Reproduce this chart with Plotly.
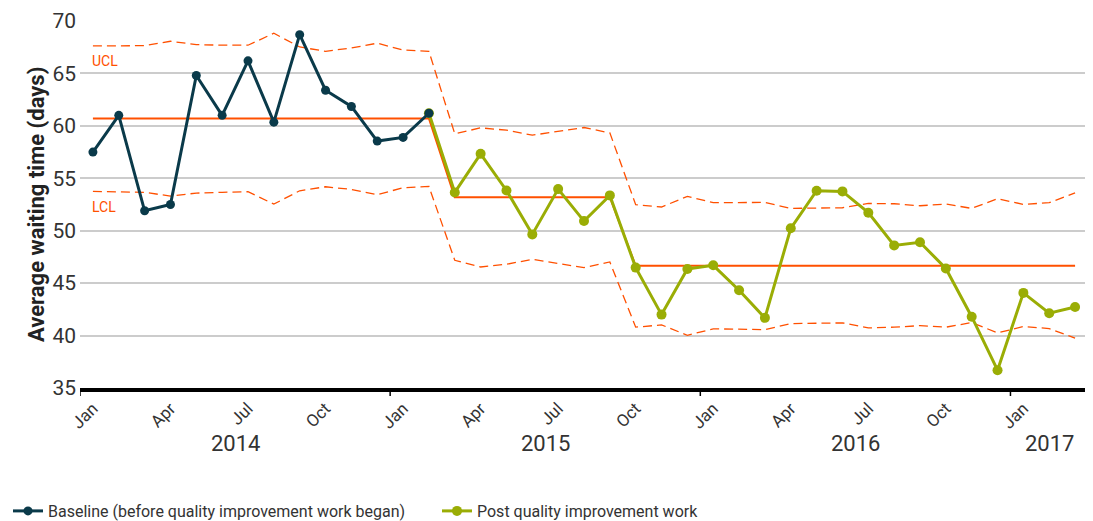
import plotly.graph_objects as go

months = ["Jan", "Feb", "Mar", "Apr", "May", "Jun", "Jul", "Aug", "Sep", "Oct", "Nov", "Dec"] * 3 + ["Jan", "Feb", "Mar"]
years = [2014] * 12 + [2015] * 12 + [2016] * 12 + [2017] * 3

baseline = [57.5, 61.0, 51.9, 52.5, 64.8, 61.0, 66.2, 60.35, 68.7, 63.4, 61.85, 58.55, 58.9, 61.2]
post = [61.2, 53.65, 57.33, 53.84, 49.65, 53.97, 50.92, 53.37, 46.48, 42.0, 46.35, 46.7,
        44.32, 41.69, 50.23, 53.81, 53.75, 51.72, 48.6, 48.9, 46.4, 41.8, 36.7, 44.07, 42.13, 42.73]
centre = [60.7] * 14 + [53.2] * 7 + [46.65] * 18
ucl = [67.62, 67.65, 67.65, 68.07, 67.75, 67.69, 67.69, 68.83, 67.52, 67.11, 67.43, 67.88, 67.24, 67.11,
       59.24, 59.81, 59.59, 59.11, 59.5, 59.84, 59.33,
       52.48, 52.26, 53.28, 52.67, 52.7, 52.7, 52.13, 52.13, 52.19, 52.6, 52.57, 52.38, 52.54, 52.13,
       53.05, 52.51, 52.67, 53.6]
lcl = [53.75, 53.72, 53.66, 53.3, 53.59, 53.66, 53.72, 52.54, 53.81, 54.19, 53.94, 53.43, 54.1, 54.22,
       47.18, 46.54, 46.8, 47.27, 46.86, 46.48, 47.02,
       40.8, 41.02, 40.03, 40.64, 40.57, 40.57, 41.14, 41.14, 41.21, 40.73, 40.8, 40.95, 40.8, 41.24,
       40.26, 40.86, 40.67, 39.75]

x_all = list(range(len(months)))
x_base = x_all[:len(baseline)]
x_post = x_all[len(baseline) - 1:len(baseline) - 1 + len(post)]

ORANGE = "#ff5000"
NAVY = "#0a3a4a"
GREEN = "#9aad05"
FONT = "Roboto"

fig = go.Figure()
fig.add_trace(go.Scatter(x=x_all, y=ucl, mode="lines", line=dict(color=ORANGE, width=1.3, dash="9px,5px"),
                         showlegend=False, hoverinfo="skip"))
fig.add_trace(go.Scatter(x=x_all, y=lcl, mode="lines", line=dict(color=ORANGE, width=1.3, dash="9px,5px"),
                         showlegend=False, hoverinfo="skip"))
fig.add_trace(go.Scatter(x=x_all, y=centre, mode="lines", line=dict(color=ORANGE, width=2),
                         showlegend=False, hoverinfo="skip"))
fig.add_trace(go.Scatter(x=x_post, y=post, mode="lines+markers", name="Post quality improvement work",
                         line=dict(color=GREEN, width=3), marker=dict(color=GREEN, size=10)))
fig.add_trace(go.Scatter(x=x_base, y=baseline, mode="lines+markers",
                         name="Baseline (before quality improvement work began)",
                         line=dict(color=NAVY, width=3), marker=dict(color=NAVY, size=9)))

tick_idx = [i for i, m in enumerate(months) if m in ("Jan", "Apr", "Jul", "Oct")]
fig.update_xaxes(range=[-0.5, len(months) - 0.5], tickvals=tick_idx, ticktext=[months[i] for i in tick_idx],
                 tickangle=-45, ticks="", showgrid=False, zeroline=False, showline=True, linecolor="#000000",
                 linewidth=4, automargin=False, tickfont=dict(family=FONT, size=17, color="#333333"))
fig.update_yaxes(range=[35, 70], dtick=5, showgrid=True, gridcolor="#cccccc", gridwidth=1.5, zeroline=False,
                 showline=False, ticks="", ticklabelstandoff=3, automargin=False,
                 tickfont=dict(family=FONT, size=21, color="#333333"))

# year group boundaries
uyears = []
for y in years:
    if y not in uyears:
        uyears.append(y)
for yr in uyears:
    idx = [i for i, y in enumerate(years) if y == yr]
    fig.add_shape(type="line", xref="x", yref="paper", ysizemode="pixel", yanchor=0,
                  x0=idx[0] - 0.5, x1=idx[0] - 0.5, y0=0, y1=-8, line=dict(color="#000000", width=1.5))
    fig.add_annotation(x=(idx[0] + idx[-1]) / 2, y=0, xref="x", yref="paper", yanchor="middle", yshift=-55,
                       text=str(yr), showarrow=False, font=dict(family=FONT, size=22, color="#333333"))

fig.add_annotation(x=0, y=66.2, xref="x", yref="y", xanchor="left", xshift=-3, text="UCL", showarrow=False,
                   font=dict(family=FONT, size=14, color=ORANGE))
fig.add_annotation(x=0, y=52.3, xref="x", yref="y", xanchor="left", xshift=-3, text="LCL", showarrow=False,
                   font=dict(family=FONT, size=14, color=ORANGE))
fig.add_annotation(x=(14 - 72) / 1008, y=0.5, xref="paper", yref="paper", textangle=-90, showarrow=False,
                   text="<b>Average waiting time (days)</b>", font=dict(family=FONT, size=22, color="#222222"))

# the page adds an 8px body margin, so the figure is drawn 8px smaller
fig.update_layout(width=1085, height=513, margin=dict(l=72, r=5, t=13, b=133, autoexpand=False),
                  plot_bgcolor="white", paper_bgcolor="white",
                  legend=dict(orientation="h", xref="container", yref="container", x=0.0, xanchor="left",
                              y=0.0195, yanchor="middle",
                              traceorder="reversed", entrywidth=384, entrywidthmode="pixels",
                              font=dict(family=FONT, size=16, color="#333333")),
                  hovermode=False)

fig.write_html("out.html")
